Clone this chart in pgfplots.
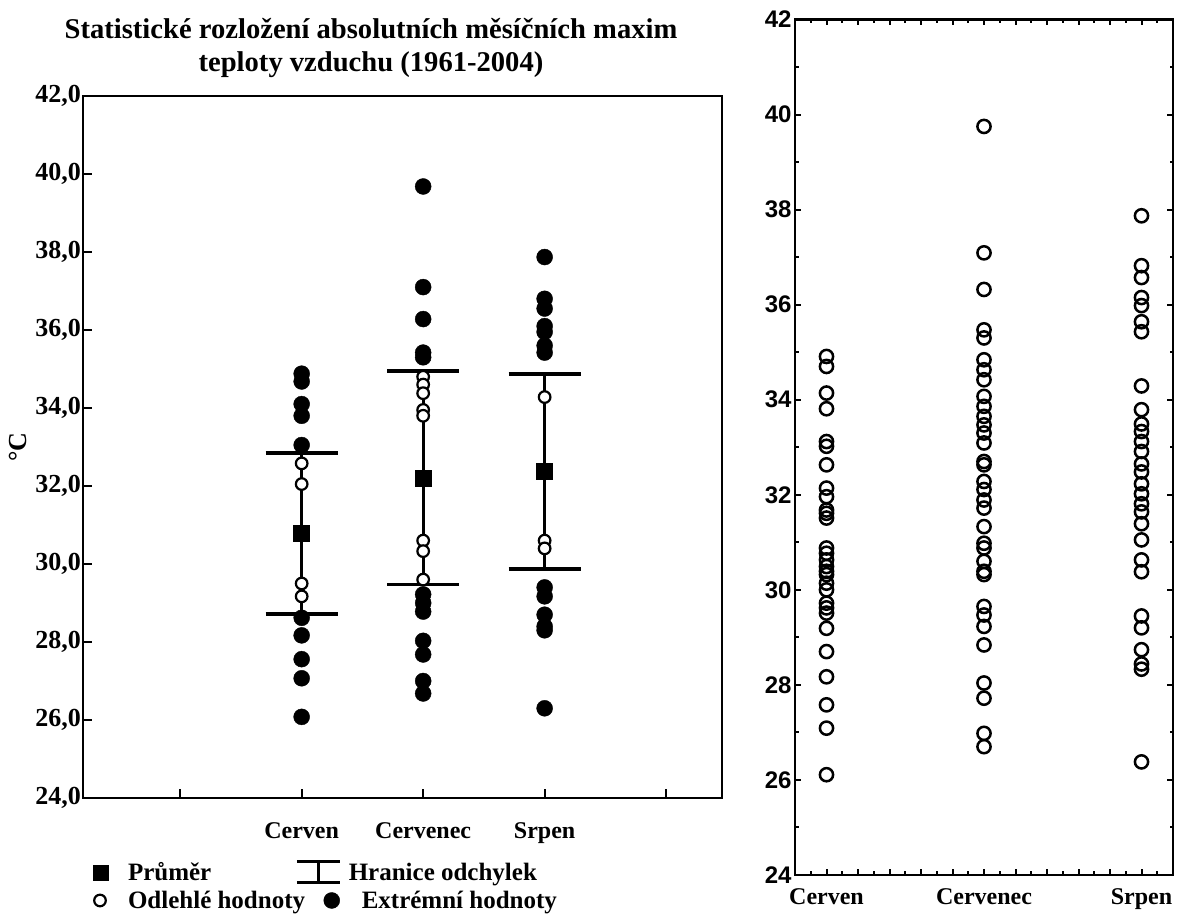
\documentclass[border=0pt]{standalone}
\usepackage{fontspec}
\setmainfont{Liberation Serif}
\newfontfamily\sansb{Liberation Sans}
\usepackage{pgfplots}
\pgfplotsset{compat=1.18}
\newcommand{\fs}{\fontsize{24}{32}\selectfont\bfseries}
\newcommand{\fy}{\fontsize{26}{32}\selectfont\bfseries}
\newcommand{\fl}{\fontsize{25}{32}\selectfont\bfseries}
\newcommand{\ft}{\fontsize{28.6}{33}\selectfont\bfseries}

\begin{document}
\begin{tikzpicture}[x=1pt,y=1pt]
\useasboundingbox (0,0) rectangle (1179,916);
% ---------------- left axis
\begin{axis}[
  at={(83pt,118pt)}, anchor=south west,
  scale only axis, width=639pt, height=702pt,
  xmin=-0.8, xmax=4.46, ymin=24, ymax=42,
  xtick={0,1,2,3,4}, xticklabels={{},Cerven,Cervenec,Srpen,{}},
  ytick={24,26,...,42},
  xtick pos=left, ytick pos=left,
  tick align=inside, major tick length=9pt,
  tick style={line width=2pt, black},
  axis line style={line width=2.5pt},
  xticklabel style={font=\fs, anchor=base, yshift=-41pt},
  yticklabel style={font=\fy, inner sep=2pt, /pgf/number format/.cd, fixed, fixed zerofill, precision=1, use comma, assume math mode=true},
  ylabel={°C},
  ylabel style={at={(axis description cs:-0.1017,0.5)}, anchor=center, font=\fy},
  title={Statistické rozložení absolutních měsíčních maxim\\teploty vzduchu (1961-2004)},
  title style={at={(axis description cs:0.4507,1.0598)}, anchor=center, align=center, font=\ft},
  legend columns=2,
  legend cell align=left,
  legend style={at={(axis description cs:0.0047,-0.0883)}, anchor=north west, draw=none, fill=none,
    inner sep=0pt, outer sep=0pt, font=\fl, /tikz/column sep=0pt, /tikz/row sep=5pt,
    nodes={inner sep=0pt, outer sep=0pt}},
]
% limits of deviation: vertical lines
\addplot[forget plot, black, line width=3pt, unbounded coords=jump]
  coordinates {(1,28.72) (1,32.84) (1,nan) (2,29.47) (2,34.95) (2,nan) (3,29.87) (3,34.87)};
% limits of deviation: caps
\addplot[forget plot, black, line width=3.5pt, unbounded coords=jump]
  coordinates {(0.704,28.72) (1.296,28.72) (1,nan) (0.704,32.84) (1.296,32.84) (1,nan)
               (1.704,29.47) (2.296,29.47) (2,nan) (1.704,34.95) (2.296,34.95) (2,nan)
               (2.704,29.87) (3.296,29.87) (3,nan) (2.704,34.87) (3.296,34.87)};
% outliers (open)
\addplot[forget plot, only marks, mark=*, mark size=5.8pt, mark options={fill=white, draw=black, line width=2.2pt}]
  coordinates {
  (1,32.58) (1,32.05) (1,29.50) (1,29.17)
  (2,34.80) (2,34.60) (2,34.38) (2,33.95) (2,33.80) (2,30.60) (2,30.33) (2,29.60)
  (3,34.28) (3,30.60) (3,30.40)};
% extremes (filled)
\addplot[forget plot, only marks, mark=*, mark size=8pt, black]
  coordinates {
  (1,34.88) (1,34.68) (1,34.10) (1,33.80) (1,33.05) (1,28.62) (1,28.17) (1,27.56) (1,27.07) (1,26.08)
  (2,39.68) (2,37.10) (2,36.28) (2,35.42) (2,35.30) (2,29.22) (2,29.00) (2,28.78) (2,28.03) (2,27.68) (2,27.00) (2,26.68)
  (3,37.87) (3,36.80) (3,36.55) (3,36.10) (3,35.95) (3,35.60) (3,35.42) (3,29.40) (3,29.17) (3,28.70) (3,28.40) (3,28.30) (3,26.30)};
% means
\addplot[forget plot, only marks, mark=square*, mark size=8pt, black]
  coordinates {(1,30.78) (2,32.21) (3,32.37)};
\addlegendimage{legend image code/.code={\path[draw=none,fill=none] (0pt,-11pt) rectangle (42pt,11pt); \fill[black] (7pt,-7.5pt) rectangle (22pt,7.5pt);}}
\addlegendentry{\makebox[167pt][l]{Průměr}}
\addlegendimage{legend image code/.code={\path[draw=none,fill=none] (0pt,-11pt) rectangle (52pt,11pt); \draw[black, line width=3.5pt] (0pt,10.5pt)--(43pt,10.5pt) (0pt,-10.5pt)--(43pt,-10.5pt); \draw[black, line width=3pt] (21.5pt,10.5pt)--(21.5pt,-10.5pt);}}
\addlegendentry{Hranice odchylek}
\addlegendimage{legend image code/.code={\path[draw=none,fill=none] (0pt,-11pt) rectangle (42pt,11pt); \draw[black, line width=2.2pt, fill=white] (14pt,0pt) circle (5.8pt);}}
\addlegendentry{\makebox[167pt][l]{Odlehlé hodnoty}}
\addlegendimage{legend image code/.code={\path[draw=none,fill=none] (0pt,-11pt) rectangle (52pt,11pt); \fill[black] (35pt,0pt) circle (8pt);}}
\addlegendentry{\hspace*{13pt}Extrémní hodnoty}
\end{axis}
% ---------------- right axis
\begin{axis}[
  at={(795pt,41pt)}, anchor=south west,
  scale only axis, width=378pt, height=855.5pt,
  xmin=-0.2, xmax=2.2, ymin=24, ymax=42,
  xtick={0,1,2}, xticklabels={Cerven,Cervenec,Srpen},
  extra x ticks={0.2,0.4,0.6,0.8,1.2,1.4,1.6,1.8}, extra x tick labels={},
  minor xtick={-0.1,0.1,0.3,0.5,0.7,0.9,1.1,1.3,1.5,1.7,1.9,2.1},
  ytick={24,26,...,42}, minor ytick={25,27,...,41},
  tick align=inside, major tick length=6pt, minor tick length=3.5pt,
  tick style={line width=2pt, black},
  axis line style={line width=2.5pt},
  xticklabel style={font=\fs, anchor=base, yshift=-30pt},
  yticklabel style={font=\sansb\fs, /pgf/number format/assume math mode=true},
]
\addplot[only marks, mark=o, mark size=6.6pt, mark options={line width=2.5pt}, black]
  coordinates {
  (0,34.91) (0,34.70) (0,34.14) (0,33.81) (0,33.12) (0,33.02) (0,32.63) (0,32.14) (0,31.96) (0,31.68)
  (0,31.61) (0,31.51) (0,30.88) (0,30.77) (0,30.63) (0,30.49) (0,30.39) (0,30.32) (0,30.14) (0,30.00)
  (0,29.72) (0,29.62) (0,29.51) (0,29.19) (0,28.70) (0,28.17) (0,27.58) (0,27.09) (0,26.11)
  (1,39.75) (1,37.09) (1,36.32) (1,35.47) (1,35.30) (1,34.84) (1,34.63) (1,34.42) (1,34.07) (1,33.86)
  (1,33.65) (1,33.47) (1,33.30) (1,33.09) (1,32.70) (1,32.63) (1,32.28) (1,32.11) (1,31.89) (1,31.72)
  (1,31.33) (1,30.98) (1,30.88) (1,30.60) (1,30.39) (1,30.32) (1,29.65) (1,29.47) (1,29.23) (1,28.84)
  (1,28.04) (1,27.72) (1,26.98) (1,26.70)
  (2,37.87) (2,36.82) (2,36.57) (2,36.15) (2,35.98) (2,35.64) (2,35.43) (2,34.29) (2,33.79) (2,33.49)
  (2,33.33) (2,33.12) (2,32.91) (2,32.65) (2,32.48) (2,32.23) (2,32.02) (2,31.81) (2,31.64) (2,31.39)
  (2,31.05) (2,30.63) (2,30.38) (2,29.45) (2,29.20) (2,28.74) (2,28.44) (2,28.33) (2,26.38)};
\end{axis}
\end{tikzpicture}
\end{document}
